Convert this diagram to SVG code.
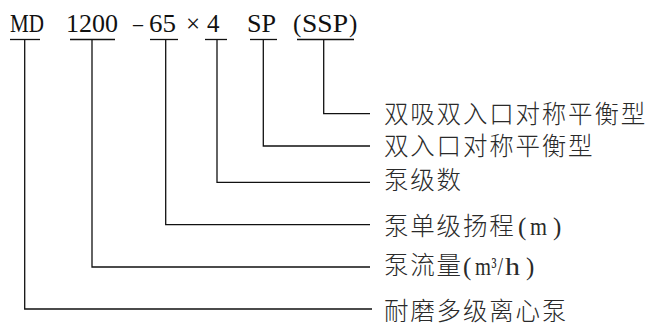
<svg xmlns="http://www.w3.org/2000/svg" width="650" height="326" viewBox="0 0 650 326">
<style>
.code{font-family:"Liberation Serif","Times New Roman",serif;font-size:25px;fill:#111}
.lab{font-family:"Noto Sans CJK SC","Noto Sans",sans-serif;font-size:24.5px;font-weight:300;letter-spacing:1.8px;fill:#2a2a2a}
.lat{font-family:"Liberation Serif","Times New Roman",serif;font-size:25px;font-weight:400;letter-spacing:0;fill:#2a2a2a}
.ln{fill:none;stroke:#111;stroke-width:1.3}
</style>
<rect width="650" height="326" fill="#fff"/>
<g id="code-md"><text class="code" x="10" y="32" textLength="34" lengthAdjust="spacingAndGlyphs">MD</text></g>
<g id="code-1200"><text class="code" x="66" y="32" textLength="52" lengthAdjust="spacingAndGlyphs">1200</text></g>
<g id="code-dash"><text class="code" x="133" y="32" textLength="10" lengthAdjust="spacingAndGlyphs">–</text></g>
<g id="code-65"><text class="code" x="149" y="32" textLength="27" lengthAdjust="spacingAndGlyphs">65</text></g>
<g id="code-times"><text class="code" x="186" y="32" font-size="20">×</text></g>
<g id="code-4"><text class="code" x="207" y="32">4</text></g>
<g id="code-sp"><text class="code" x="247" y="32" textLength="29" lengthAdjust="spacingAndGlyphs">SP</text></g>
<g id="code-ssp"><text class="code" x="293" y="32">(</text><text class="code" x="302" y="32" textLength="46" lengthAdjust="spacingAndGlyphs">SSP</text><text class="code" x="349" y="32">)</text></g>
<g id="connectors">
<line class="ln" x1="10" y1="39.5" x2="40" y2="39.5"/>
<line class="ln" x1="70" y1="39.5" x2="115" y2="39.5"/>
<line class="ln" x1="150" y1="39.5" x2="178" y2="39.5"/>
<line class="ln" x1="205" y1="39.5" x2="227" y2="39.5"/>
<line class="ln" x1="250" y1="39.5" x2="277" y2="39.5"/>
<line class="ln" x1="297" y1="39.5" x2="354" y2="39.5"/>
<polyline class="ln" points="323.7,39.5 323.7,113.7 370,113.7"/>
<polyline class="ln" points="263.3,39.5 263.3,146 370,146"/>
<polyline class="ln" points="217,39.5 217,182.3 370,182.3"/>
<polyline class="ln" points="165.7,39.5 165.7,224.7 370,224.7"/>
<polyline class="ln" points="92,39.5 92,267 370,267"/>
<polyline class="ln" points="24.7,39.5 24.7,309 372,309"/>
</g>
<g id="label-ssp"><text class="lab" x="384" y="123">双吸双入口对称平衡型</text></g>
<g id="label-sp"><text class="lab" x="384" y="154.5">双入口对称平衡型</text></g>
<g id="label-stages"><text class="lab" x="384" y="189">泵级数</text></g>
<g id="label-head"><text class="lab" x="384" y="235" letter-spacing="3">泵单级扬程<tspan class="lat" x="518">(</tspan><tspan class="lat" x="530" textLength="17" lengthAdjust="spacingAndGlyphs">m</tspan><tspan class="lat" x="553">)</tspan></text></g>
<g id="label-flow"><text class="lab" x="384" y="274" letter-spacing="3">泵流量<tspan class="lat" x="463" dy="1">(</tspan><tspan class="lat" x="475" textLength="16" lengthAdjust="spacingAndGlyphs">m</tspan><tspan class="lat" x="491.5" textLength="5" lengthAdjust="spacingAndGlyphs">³</tspan><tspan class="lat" x="497.5" textLength="5.5" lengthAdjust="spacingAndGlyphs">/</tspan><tspan class="lat" x="505" textLength="15" lengthAdjust="spacingAndGlyphs">h</tspan><tspan class="lat" x="526">)</tspan></text></g>
<g id="label-type"><text class="lab" x="384" y="320">耐磨多级离心泵</text></g>
</svg>
